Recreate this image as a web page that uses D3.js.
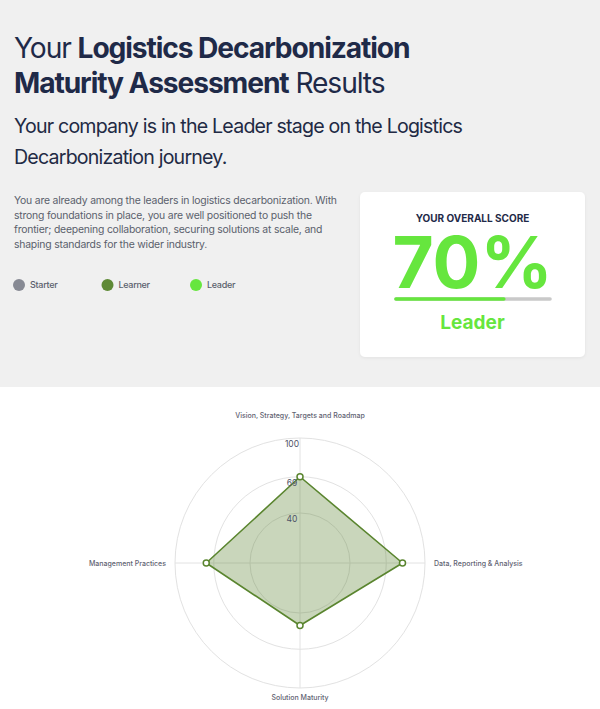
<!DOCTYPE html>
<html>
<head>
<meta charset="utf-8">
<script src="https://cdn.jsdelivr.net/npm/d3@7"></script>
<style>
  html, body { margin: 0; padding: 0; background: #ffffff; }
  svg { display: block; font-family: Inter, "Noto Sans", sans-serif; }
</style>
</head>
<body>
<svg id="chart" width="600" height="709"></svg>
<script>
// ---- data ----
const axisLabels = ["Vision, Strategy, Targets and Roadmap", "Data, Reporting & Analysis", "Solution Maturity", "Management Practices"];
const axisScores = [69, 82, 50, 75];
const radialTicks = [40, 69, 100];
const stageNames = ["Starter", "Learner", "Leader"];
const stageColors = ["#878a94", "#5f8a36", "#66e63e"];
const overallScore = 70;
const overallStage = "Leader";
const titleParts = [["Your ", 400], ["Logistics Decarbonization", 700]];
const titleParts2 = [["Maturity Assessment", 700], [" Results", 400]];
const subtitleLines = ["Your company is in the Leader stage on the Logistics", "Decarbonization journey."];
const bodyLines = [
  "You are already among the leaders in logistics decarbonization. With",
  "strong foundations in place, you are well positioned to push the",
  "frontier; deepening collaboration, securing solutions at scale, and",
  "shaping standards for the wider industry."
];

const svg = d3.select("#chart");

// ---- header background ----
svg.append("rect").attr("x", 0).attr("y", 0).attr("width", 600).attr("height", 387).attr("fill", "#f0f0f0");

// ---- title ----
function partsText(parts, y) {
  const t = svg.append("text").attr("x", 14).attr("y", y)
    .attr("font-size", 28.2).attr("letter-spacing", -1.1).attr("fill", "#1f2a48");
  parts.forEach(p => t.append("tspan").attr("font-weight", p[1]).text(p[0]));
}
partsText(titleParts, 57.5);
partsText(titleParts2, 93);

svg.selectAll(".sub").data(subtitleLines).join("text")
  .attr("x", 14).attr("y", (d, i) => 133 + i * 31)
  .attr("font-size", 19.6).attr("letter-spacing", -0.8).attr("fill", "#222a44").text(d => d);

svg.selectAll(".body").data(bodyLines).join("text")
  .attr("x", 14).attr("y", (d, i) => 204 + i * 14.7)
  .attr("font-size", 10.4).attr("letter-spacing", -0.2).attr("fill", "#5a5f6c").text(d => d);

// ---- legend ----
const lx = d3.scalePoint().domain(stageNames).range([19, 196]);
const lg = svg.selectAll(".lg").data(stageNames).join("g")
  .attr("transform", d => `translate(${lx(d)},285)`);
lg.append("circle").attr("r", 6).attr("fill", (d, i) => stageColors[i]);
lg.append("text").attr("x", 11).attr("y", 3.2).attr("font-size", 9).attr("letter-spacing", -0.3)
  .attr("font-weight", 500).attr("fill", "#5a5f6c").text(d => d);

// ---- score card ----
const card = svg.append("g");
const defs = svg.append("defs");
const f = defs.append("filter").attr("id", "sh").attr("x", "-10%").attr("y", "-10%").attr("width", "120%").attr("height", "130%");
f.append("feDropShadow").attr("dx", 0).attr("dy", 1).attr("stdDeviation", 1.5).attr("flood-color", "#000").attr("flood-opacity", 0.06);
card.append("rect").attr("x", 360).attr("y", 192).attr("width", 225).attr("height", 165)
  .attr("rx", 5).attr("fill", "#ffffff").attr("filter", "url(#sh)");
const cx0 = 472.5;
card.append("text").attr("x", cx0).attr("y", 222).attr("text-anchor", "middle")
  .attr("font-size", 10).attr("font-weight", 700).attr("fill", "#1f2a48").text("YOUR OVERALL SCORE");
card.append("text").attr("x", cx0).attr("y", 288).attr("text-anchor", "middle")
  .attr("font-size", 71).attr("font-weight", 700).attr("fill", stageColors[2]).text(overallScore + "%");
const bar = d3.scaleLinear().domain([0, 100]).range([396, 550]);
card.append("line").attr("x1", bar(0)).attr("x2", bar(100)).attr("y1", 299).attr("y2", 299)
  .attr("stroke", "#c9c9c9").attr("stroke-width", 3.6).attr("stroke-linecap", "round");
card.append("line").attr("x1", bar(0)).attr("x2", bar(overallScore)).attr("y1", 299).attr("y2", 299)
  .attr("stroke", stageColors[2]).attr("stroke-width", 3.6).attr("stroke-linecap", "round");
card.append("text").attr("x", cx0).attr("y", 329).attr("text-anchor", "middle")
  .attr("font-size", 19).attr("font-weight", 700).attr("fill", stageColors[2]).text(overallStage);

// ---- radar ----
const cx = 300, cy = 563;
const r = d3.scaleLinear().domain([0, 100]).range([0, 125]);
const angle = d3.scaleLinear().domain([0, axisLabels.length]).range([0, 2 * Math.PI]);
const pt = (i, v) => [cx + r(v) * Math.sin(angle(i)), cy - r(v) * Math.cos(angle(i))];
const radar = svg.append("g");

radar.selectAll(".grid").data(radialTicks).join("circle")
  .attr("cx", cx).attr("cy", cy).attr("r", d => r(d))
  .attr("fill", "none").attr("stroke", "#e2e2e2").attr("stroke-width", 1);
radar.selectAll(".spoke").data(axisLabels).join("line")
  .attr("x1", cx).attr("y1", cy)
  .attr("x2", (d, i) => pt(i, 100)[0]).attr("y2", (d, i) => pt(i, 100)[1])
  .attr("stroke", "#e2e2e2").attr("stroke-width", 1);

const line = d3.line().curve(d3.curveLinearClosed);
radar.append("path").datum(axisScores.map((v, i) => pt(i, v)))
  .attr("d", line).attr("fill", "rgba(90,130,50,0.33)")
  .attr("stroke", "#5a852f").attr("stroke-width", 1.6).attr("stroke-linejoin", "round");

radar.selectAll(".tick").data(radialTicks).join("text")
  .attr("x", cx - 8).attr("y", d => cy - r(d) + 9)
  .attr("text-anchor", "middle").attr("font-size", 8.5).attr("fill", "#4f5468").text(d => d);

radar.selectAll(".pt").data(axisScores).join("circle")
  .attr("cx", (d, i) => pt(i, d)[0]).attr("cy", (d, i) => pt(i, d)[1]).attr("r", 3)
  .attr("fill", "#ffffff").attr("stroke", "#5a852f").attr("stroke-width", 1.5);

const labelPad = [23, 9, 9, 9];
radar.selectAll(".al").data(axisLabels).join("text")
  .attr("x", (d, i) => pt(i, 100)[0] + Math.sin(angle(i)) * labelPad[i])
  .attr("y", (d, i) => pt(i, 100)[1] - Math.cos(angle(i)) * labelPad[i] + 2.5)
  .attr("text-anchor", (d, i) => { const s = Math.round(Math.sin(angle(i)) * 100); return s > 0 ? "start" : s < 0 ? "end" : "middle"; })
  .attr("font-size", 7).attr("font-weight", 500).attr("fill", "#5f6372").text(d => d);
</script>
</body>
</html>
